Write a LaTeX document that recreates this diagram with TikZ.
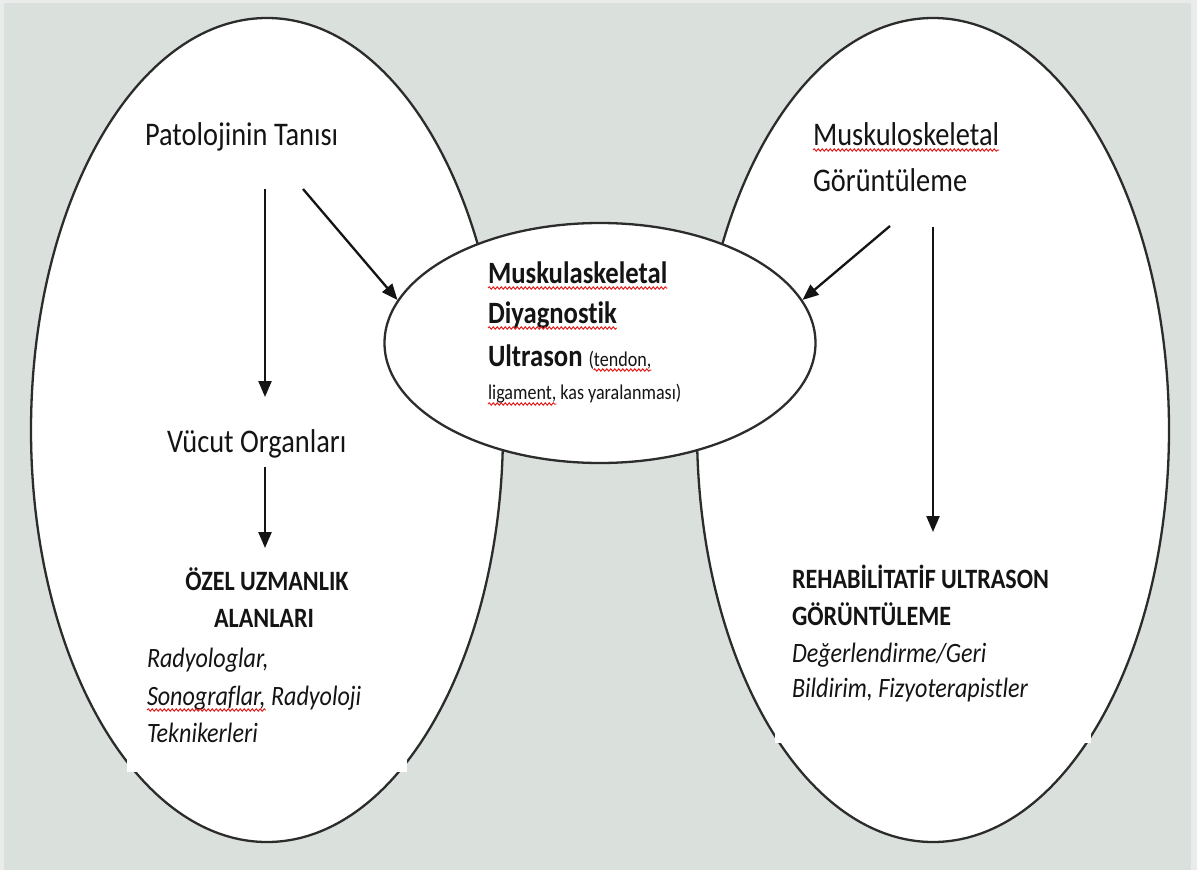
\documentclass[tikz,border=0pt]{standalone}
\usepackage{fontspec}
\setmainfont{Carlito}[FakeStretch=0.86, Ligatures={NoCommon}, RawFeature={-liga;-clig}]
\usetikzlibrary{shapes.geometric,arrows.meta,decorations.pathmorphing}
\definecolor{bg}{RGB}{218,224,220}
\definecolor{frame}{RGB}{234,236,235}
\definecolor{ink}{RGB}{20,20,20}
\definecolor{squig}{RGB}{230,30,30}
\tikzset{
  bigell/.style={ellipse, draw=ink!90, line width=2.3pt, fill=white, inner sep=0pt,
                 minimum width=472pt, minimum height=824pt},
  midell/.style={ellipse, draw=ink!90, line width=2.3pt, fill=white, inner sep=0pt,
                 minimum width=431pt, minimum height=240pt},
  txt/.style={inner sep=0pt, outer sep=0pt, anchor=base west, text=ink,
              font=\fontsize{33}{38}\selectfont},
  boldc/.style={txt, font=\fontsize{31}{38}\selectfont\bfseries},
  small/.style={txt, font=\fontsize{21}{26}\selectfont},
  boldb/.style={txt, font=\fontsize{28}{34}\selectfont\bfseries},
  itb/.style={txt, font=\fontsize{28}{34}\selectfont\itshape},
  arr/.style={draw=ink, line width=2.3pt, -{Triangle[length=16pt,width=13pt]}},
  wavy/.style={draw=squig, line width=1pt, decorate,
               decoration={snake, amplitude=1.2pt, segment length=4pt}}
}
\begin{document}
\begin{tikzpicture}[x=1pt,y=-1pt]
\useasboundingbox (0,0) rectangle (1197,870);
\fill[frame] (0,0) rectangle (1197,870);
\fill[bg] (4,3) rectangle (1191,870);

% large ellipses
\node[bigell] (L) at (267,430) {};
\node[bigell] (R) at (933,430) {};
\fill[white] (127,560) rectangle (407,772);
\fill[white] (775,560) rectangle (1091,743);
% centre ellipse
\node[midell] (M) at (600,343) {};

% left texts
\node[txt] (pat) at (145,145) {Patolojinin Tanısı};
\node[txt] (vuc) at (167,452) {Vücut Organları};
\node[boldb, anchor=base] (oz1) at (267,590) {ÖZEL UZMANLIK};
\node[boldb, anchor=base] (oz2) at (264,627) {ALANLARI};
\node[itb] (r1) at (147,667) {Radyologlar,};
\node[itb] (r2a) at (147,705) {Sonograflar,};
\node[itb] (r2b) at (r2a.base east) {\ Radyoloji};
\node[itb] (r3) at (147,742) {Teknikerleri};

% right texts
\node[txt] (mu1) at (813,145) {Muskuloskeletal};
\node[txt] (mu2) at (813,191) {Görüntüleme};
\node[boldb] (rh1) at (792,588) {REHABİLİTATİF ULTRASON};
\node[boldb] (rh2) at (792,625) {GÖRÜNTÜLEME};
\node[itb] (rh3) at (792,662) {Değerlendirme/Geri};
\node[itb] (rh4) at (792,697) {Bildirim, Fizyoterapistler};

% centre texts
\node[boldc] (c1) at (488,283) {Muskulaskeletal};
\node[boldc] (c2) at (488,323) {Diyagnostik};
\node[boldc] (c3) at (488,366) {Ultrason};
\node[small] (c3b) at ([xshift=6pt]c3.base east) {(tendon,};
\node[small] (c4a) at (488,399) {ligament,};
\node[small] (c4b) at (c4a.base east) {\ kas yaralanması)};

% spell-check underlines
\draw[wavy] ([yshift=-5pt]mu1.base west) -- ([yshift=-5pt]mu1.base east);
\draw[wavy] ([yshift=-5pt]c1.base west) -- ([yshift=-5pt]c1.base east);
\draw[wavy] ([yshift=-5pt]c2.base west) -- ([yshift=-5pt]c2.base east);
\draw[wavy] ([xshift=5pt,yshift=-4pt]c3b.base west) -- ([yshift=-4pt]c3b.base east);
\draw[wavy] ([yshift=-5pt]c4a.base west) -- ([yshift=-5pt]c4a.base east);
\draw[wavy] ([yshift=-5pt]r2a.base west) -- ([yshift=-5pt]r2a.base east);

% arrow end points
\coordinate (a1s) at (265,189);
\coordinate (a1e) at (265,397);
\coordinate (a2s) at (265,467);
\coordinate (a2e) at (265,548);
\coordinate (a3s) at (303,189);
\coordinate (a4s) at (890,226);
\coordinate (a5s) at (933,227);
\coordinate (a5e) at (933,532);

\draw[arr] (a1s) -- (a1e);
\draw[arr] (a2s) -- (a2e);
\draw[arr] (a3s) -- (M.168);
\draw[arr] (a4s) -- (M.12);
\draw[arr] (a5s) -- (a5e);
\end{tikzpicture}
\end{document}
